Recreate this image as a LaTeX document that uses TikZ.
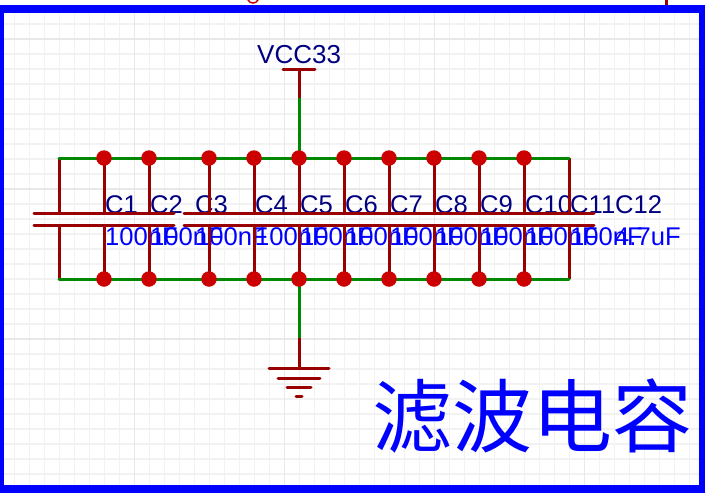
\documentclass[tikz,border=0pt]{standalone}
\usepackage{fontspec}
\setmainfont{Liberation Sans}
\newfontfamily\cjk{Noto Sans CJK SC}
\usepackage{xcolor}
\usetikzlibrary{positioning, calc}
\definecolor{wirec}{RGB}{0,136,0}
\definecolor{pinc}{RGB}{153,0,0}
\definecolor{junc}{RGB}{204,0,0}
\definecolor{namec}{RGB}{0,0,128}
\definecolor{valc}{RGB}{0,0,255}
\tikzset{
  gridln/.style={draw=black!5, line width=1.5pt},
  gridmaj/.style={draw=black!9, line width=1.5pt},
  wire/.style={draw=wirec, line width=3pt, line cap=round},
  pin/.style={draw=pinc, line width=3pt},
  plate/.style={draw=pinc, line width=3pt, line cap=round},
  jun/.style={circle, fill=junc, inner sep=0pt, minimum size=15.5pt},
  cname/.style={anchor=base west, inner sep=0pt, text=namec, font=\fontsize{25.6}{25.6}\selectfont},
  cval/.style={anchor=base west, inner sep=0pt, text=valc, font=\fontsize{25.6}{25.6}\selectfont},
  frame/.style={draw=valc, line width=8pt}
}
\begin{document}
\begin{tikzpicture}[x=1pt, y=-1pt]
  \useasboundingbox (0,0) rectangle (705,493);
  \fill[white] (0,0) rectangle (705,493);
  \foreach \x in {14.5,29.5,...,700} \draw[gridln] (\x,13) -- (\x,485);
  \foreach \y in {24,39,...,484} \draw[gridln] (3,\y) -- (699,\y);
  \foreach \x in {134.5,284.5,434.5,584.5} \draw[gridmaj] (\x,13) -- (\x,485);
  \foreach \y in {39,189,339} \draw[gridmaj] (3,\y) -- (699,\y);
  \draw[draw=junc, line width=1.5pt] (248,0) .. controls (250,4) and (256,4) .. (258,0);
  \draw[pin] (666.5,0) -- (666.5,5);
  \draw[frame] (-0.5,9) rectangle (703,489);

  \foreach \i/\x/\v in {1/59/100nF,2/104/100nF,3/149/100nF,4/209/100nF,5/254/100nF,6/299/100nF,
                        7/344/100nF,8/389/100nF,9/434/100nF,10/479/100nF,11/524/100nF,12/569/4.7uF} {
    \coordinate (t\i) at (\x,158);
    \coordinate (b\i) at (\x,279);
    \coordinate (pa\i) at (\x,213);
    \coordinate (pb\i) at (\x,225);
    \coordinate (pal\i) at (\x-25,213);
    \coordinate (par\i) at (\x+25,213);
    \coordinate (pbl\i) at (\x-25,225);
    \coordinate (pbr\i) at (\x+25,225);
    \draw[pin] (t\i) -- (pa\i);
    \draw[pin] (pb\i) -- (b\i);
    \node[cname] (n\i) at (\x+46,213) {C\i};
    \node[cval] (v\i) at (\x+46,245) {\v};
  }
  \foreach \i in {1,...,12} {
    \draw[plate] (pal\i) -- (par\i);
    \draw[plate] (pbl\i) -- (pbr\i);
  }

  \coordinate (vbar) at (299,69);
  \coordinate (vl) at (283,69);
  \coordinate (vr) at (315,69);
  \coordinate (vend) at (299,98);
  \coordinate (gend) at (299,338);
  \coordinate (g1) at (299,368);
  \node[anchor=base west, inner sep=0pt, text=namec, font=\fontsize{26}{26}\selectfont] (vcc) at (257,63) {VCC33};

  \draw[wire] (t1) -- (t12);
  \draw[wire] (b1) -- (b12);
  \draw[wire] (vend) -- (t6);
  \draw[wire] (b6) -- (gend);
  \draw[pin] (vbar) -- (vend);
  \draw[plate] (vl) -- (vr);
  \draw[pin] (gend) -- (g1);
  \draw[plate] (269,368) -- (329,368);
  \draw[plate] (278,378) -- (320,378);
  \draw[plate] (287,387) -- (311,387);
  \draw[plate] (296,396) -- (302,396);

  \foreach \i in {2,...,11} {
    \node[jun] (jt\i) at (t\i) {};
    \node[jun] (jb\i) at (b\i) {};
  }

  \node[inner sep=0pt, text=valc, font=\fontsize{80}{80}\selectfont\cjk] (title) at (532.5,416.5) {滤波电容};
\end{tikzpicture}
\end{document}
